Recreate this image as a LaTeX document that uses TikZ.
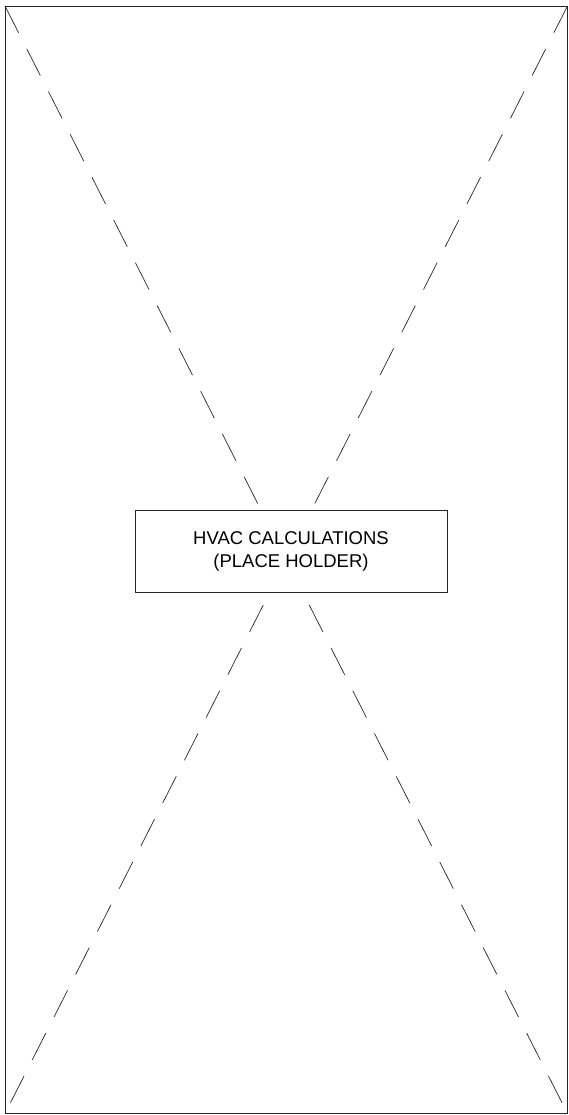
\documentclass[tikz,border=0pt]{standalone}
\usepackage{fontspec}
\setmainfont{Liberation Sans}
\usepackage{tikz}
\usetikzlibrary{calc}
\usetikzlibrary{positioning}
\usepackage{xcolor}
\definecolor{myblack}{HTML}{232527}
\tikzset{x=1pt, y=-1pt, every text node part/.style={align=center, font={\fontsize{18.5}{23}\selectfont}}}
\tikzstyle{frame} = [draw=myblack, line width=0.9pt]
\tikzstyle{cross} = [draw=myblack, line width=0.7pt, dash pattern=on 30pt off 18pt]
\tikzstyle{holder} = [draw=myblack, fill=white, line width=0.8pt, minimum width=312pt, minimum height=82pt, inner sep=0pt]

\begin{document}
\begin{tikzpicture}
  \useasboundingbox (0,0) rectangle (568,1115);
  \coordinate (tl) at (5,6);
  \coordinate (tr) at (567.5,6);
  \coordinate (bl) at (5,1113.5);
  \coordinate (br) at (567.5,1113.5);
  \draw[frame] (tl) rectangle (br);
  \draw[cross] (tl) -- (br);
  \draw[cross] (tr) -- (bl);
  \node[holder] (calc) at (291,551) {HVAC CALCULATIONS\\(PLACE HOLDER)};
\end{tikzpicture}
\end{document}
